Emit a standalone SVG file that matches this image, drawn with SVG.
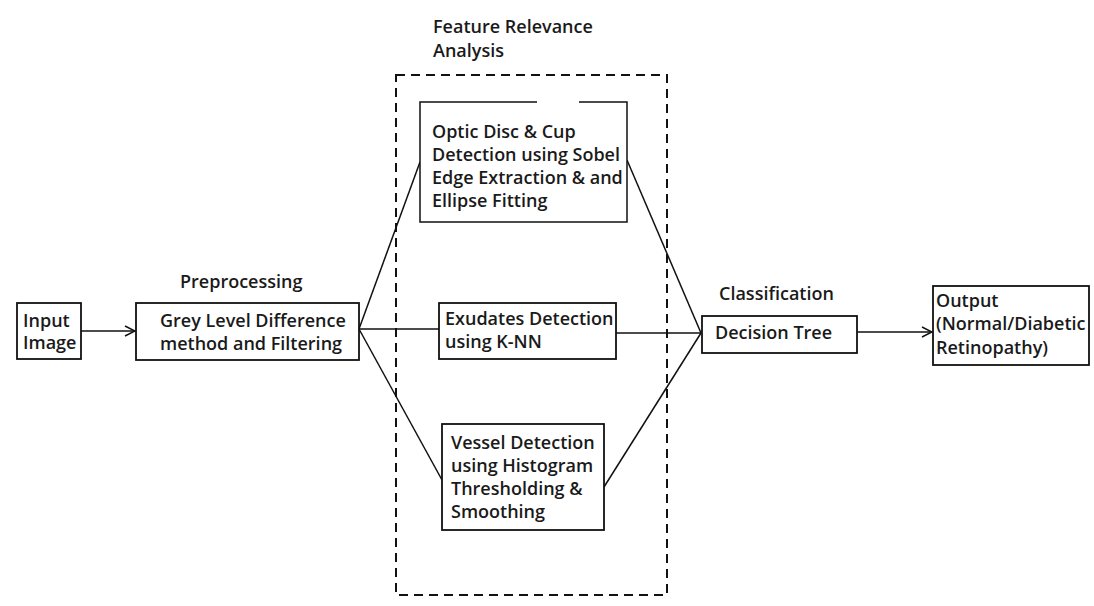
<svg xmlns="http://www.w3.org/2000/svg" width="1094" height="606" viewBox="0 0 1094 606">
<defs>
<style>
.box{fill:#fff;stroke:#111;stroke-width:1.8}
.t{font-family:"Open Sans","Noto Sans",sans-serif;font-size:18px;font-weight:600;fill:#1a1a1a}
.c{fill:none;stroke:#111;stroke-width:1.5}
.dash{fill:none;stroke:#111;stroke-width:2;stroke-dasharray:9 6}
</style>
<marker id="arr" viewBox="0 0 12 12" refX="11" refY="6" markerWidth="12" markerHeight="12" markerUnits="userSpaceOnUse" orient="auto">
<path d="M1,1 L11,6 L1,11" fill="none" stroke="#111" stroke-width="1.5"/>
</marker>
</defs>
<rect width="1094" height="606" fill="#fff"/>
<g id="feature-relevance-group">
<rect class="dash" x="396" y="75" width="271" height="520"/>
<text class="t" x="433" y="33">Feature Relevance</text>
<text class="t" x="433" y="57">Analysis</text>
</g>
<g id="connectors">
<line class="c" x1="81" y1="331" x2="135" y2="331" marker-end="url(#arr)"/>
<line class="c" x1="359" y1="329" x2="420" y2="162"/>
<line class="c" x1="359" y1="329" x2="439" y2="329"/>
<line class="c" x1="359" y1="329" x2="442" y2="480"/>
<line class="c" x1="627" y1="160" x2="701" y2="333"/>
<line class="c" x1="616" y1="333" x2="701" y2="333"/>
<line class="c" x1="604" y1="487" x2="701" y2="333"/>
<line class="c" x1="857" y1="332" x2="932" y2="332" marker-end="url(#arr)"/>
</g>
<g id="input-image">
<rect class="box" x="17" y="303" width="64" height="56"/>
<text class="t" x="23" y="327">Input</text>
<text class="t" x="23" y="349">Image</text>
</g>
<g id="preprocessing">
<text class="t" x="180" y="288">Preprocessing</text>
<rect class="box" x="136" y="303" width="223" height="57"/>
<text class="t" x="160" y="327">Grey Level Difference</text>
<text class="t" x="160" y="350">method and Filtering</text>
</g>
<g id="optic-disc">
<rect x="420" y="102" width="207" height="120" fill="#fff"/>
<path class="c" d="M537,102 H420 V222 H627 V102 H579" stroke-width="1.8"/>
<text class="t" x="432" y="138">Optic Disc &amp; Cup</text>
<text class="t" x="432" y="161">Detection using Sobel</text>
<text class="t" x="432" y="184">Edge Extraction &amp; and</text>
<text class="t" x="432" y="207">Ellipse Fitting</text>
</g>
<g id="exudates">
<rect class="box" x="439" y="303" width="177" height="56"/>
<text class="t" x="445" y="325">Exudates Detection</text>
<text class="t" x="445" y="348">using K-NN</text>
</g>
<g id="vessel">
<rect class="box" x="442" y="424" width="162" height="106"/>
<text class="t" x="451" y="449">Vessel Detection</text>
<text class="t" x="451" y="472">using Histogram</text>
<text class="t" x="451" y="495">Thresholding &amp;</text>
<text class="t" x="451" y="518">Smoothing</text>
</g>
<g id="classification">
<text class="t" x="719" y="300">Classification</text>
<rect class="box" x="702" y="316" width="155" height="37"/>
<text class="t" x="715" y="339">Decision Tree</text>
</g>
<g id="output">
<rect class="box" x="933" y="286" width="156" height="79"/>
<text class="t" x="936" y="307">Output</text>
<text class="t" x="936" y="330">(Normal/Diabetic</text>
<text class="t" x="936" y="354">Retinopathy)</text>
</g>
</svg>
